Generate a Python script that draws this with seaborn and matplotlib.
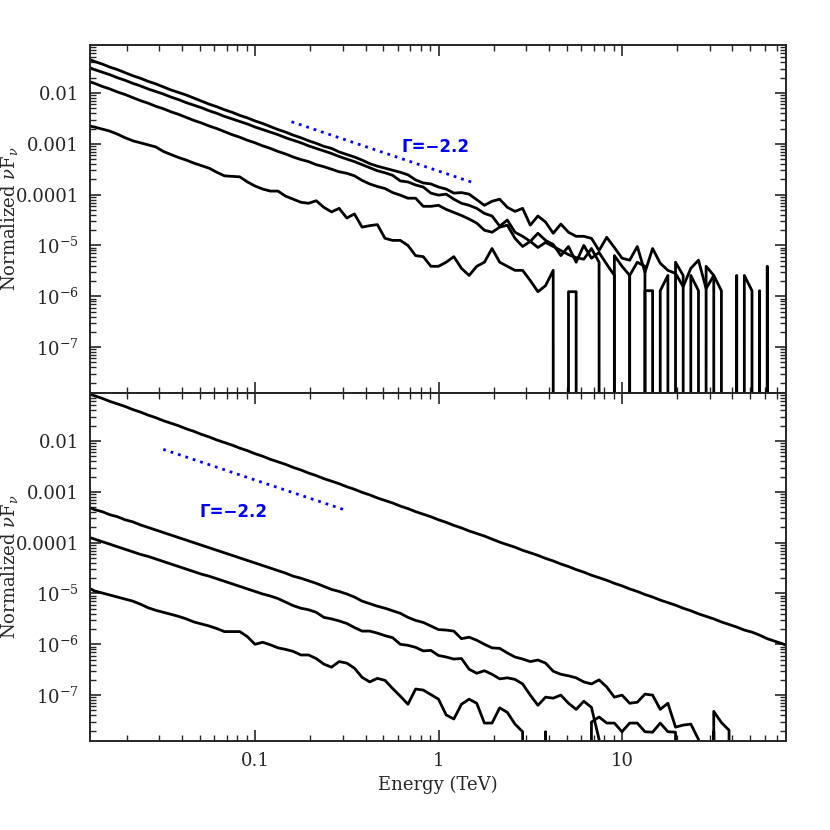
import matplotlib
matplotlib.use("Agg")
import matplotlib.pyplot as plt
import numpy as np
import pandas as pd
import seaborn as sns
from matplotlib.ticker import LogLocator, NullFormatter

# bin centres (TeV), 24 bins per decade
energy = [
    0.012115, 0.013335, 0.014678, 0.016156, 0.017783, 0.019573, 0.021544, 0.023714,
    0.026102, 0.028730, 0.031623, 0.034807, 0.038312, 0.042170, 0.046416, 0.051090,
    0.056234, 0.061897, 0.068129, 0.074989, 0.082540, 0.090852,
    0.10000, 0.11007, 0.12115, 0.13335, 0.14678, 0.16156, 0.17783, 0.19573,
    0.21544, 0.23714, 0.26102, 0.28730, 0.31623, 0.34807, 0.38312, 0.42170,
    0.46416, 0.51090, 0.56234, 0.61897, 0.68129, 0.74989, 0.82540, 0.90852,
    1.0000, 1.1007, 1.2115, 1.3335, 1.4678, 1.6156, 1.7783, 1.9573,
    2.1544, 2.3714, 2.6102, 2.8730, 3.1623, 3.4807, 3.8312, 4.2170,
    4.6416, 5.1090, 5.6234, 6.1897, 6.8129, 7.4989, 8.2540, 9.0852,
    10.000, 11.007, 12.115, 13.335, 14.678, 16.156, 17.783, 19.573,
    21.544, 23.714, 26.102, 28.730, 31.623, 34.807, 38.312, 42.170,
    46.416, 51.090, 56.234, 61.897, 68.129, 74.989, 82.540,
]

# log10(nuFnu) per bin, None = empty bin
top_a = [
    -1.32, -1.38, -1.43, -1.49, -1.54, -1.60, -1.66, -1.71, -1.77, -1.82,
    -1.88, -1.94, -1.99, -2.04, -2.10, -2.16, -2.22, -2.27, -2.33, -2.38,
    -2.44, -2.49, -2.55, -2.60, -2.66, -2.72, -2.77, -2.83, -2.88, -2.94,
    -2.99, -3.05, -3.09, -3.16, -3.21, -3.26, -3.32, -3.39, -3.44, -3.48,
    -3.52, -3.56, -3.61, -3.71, -3.77, -3.79, -3.85, -3.89, -3.97, -3.96,
    -3.99, -4.10, -4.21, -4.13, -4.09, -4.25, -4.33, -4.27, -4.60, -4.42,
    -4.54, -4.76, -4.58, -4.74, -4.82, -4.82, -4.86, -5.10, -4.84, -5.04,
    -5.25, -5.29, -5.02, -5.53, -5.06, -5.35, -5.49, -5.55, -5.81, -5.45,
    -5.29, -5.85, -5.59, -5.89, None, None, -5.59, -5.89, None, -5.41,
    None, None, None,
]
top_b = [
    -1.48, -1.54, -1.59, -1.64, -1.70, -1.75, -1.81, -1.86, -1.92, -1.97,
    -2.02, -2.08, -2.13, -2.19, -2.24, -2.29, -2.35, -2.40, -2.46, -2.51,
    -2.56, -2.61, -2.67, -2.72, -2.77, -2.82, -2.88, -2.93, -2.98, -3.04,
    -3.09, -3.14, -3.19, -3.25, -3.30, -3.35, -3.41, -3.47, -3.53, -3.57,
    -3.62, -3.73, -3.75, -3.81, -3.85, -3.97, -4.01, -3.99, -4.09, -4.17,
    -4.21, -4.27, -4.37, -4.42, -4.62, -4.50, -4.74, -4.82, -4.92, -4.76,
    -4.90, -4.98, -5.20, -5.02, -5.33, -5.00, -5.25, -5.14, -5.37, -5.59,
    None, -5.59, -5.33, -5.41, None, -5.89, -5.59, None, None, -5.59,
    -5.89, None, None, None, None, -5.59, None, None, -5.89, None,
    None, None, None,
]
top_c = [
    -1.76, -1.81, -1.87, -1.92, -1.98, -2.03, -2.09, -2.15, -2.20, -2.26,
    -2.31, -2.37, -2.42, -2.48, -2.54, -2.59, -2.65, -2.70, -2.76, -2.82,
    -2.87, -2.93, -2.98, -3.04, -3.09, -3.15, -3.20, -3.26, -3.31, -3.35,
    -3.41, -3.45, -3.50, -3.55, -3.58, -3.63, -3.72, -3.79, -3.84, -3.88,
    -3.96, -4.01, -4.07, -4.07, -4.23, -4.23, -4.21, -4.29, -4.35, -4.41,
    -4.48, -4.56, -4.70, -4.74, -4.64, -4.60, -4.86, -5.02, -4.92, -5.04,
    -4.94, -5.02, -5.10, -5.18, -5.24, -5.27, -5.06, -5.33, None, -5.20,
    -5.41, -5.59, None, -5.89, -5.89, None, None, -5.33, -5.59, None,
    None, -5.41, -5.59, None, None, None, None, None, None, None,
    None, None, None,
]
top_d = [
    -2.64, -2.67, -2.71, -2.75, -2.81, -2.88, -2.94, -2.98, -3.02, -3.06,
    -3.15, -3.21, -3.27, -3.32, -3.38, -3.43, -3.48, -3.56, -3.63, -3.64,
    -3.65, -3.75, -3.83, -3.89, -3.93, -3.93, -4.03, -4.09, -4.15, -4.17,
    -4.12, -4.25, -4.34, -4.27, -4.46, -4.38, -4.64, -4.61, -4.59, -4.86,
    -4.90, -4.90, -5.00, -5.20, -5.22, -5.41, -5.41, -5.33, -5.22, -5.45,
    -5.59, -5.41, -5.33, -5.06, -5.33, -5.41, -5.49, -5.49, -5.69, -5.91,
    -5.79, -5.49, None, -5.91, -5.91, None, None, None, None, None,
    None, None, None, None, None, None, None, None, None, None,
    None, None, None, None, None, None, None, None, None, None,
    None, None, None,
]

bot_e = [
    -1.05, -1.11, -1.16, -1.22, -1.27, -1.32, -1.38, -1.43, -1.49, -1.54,
    -1.60, -1.65, -1.70, -1.76, -1.81, -1.87, -1.92, -1.98, -2.03, -2.08,
    -2.14, -2.19, -2.25, -2.30, -2.36, -2.41, -2.46, -2.52, -2.57, -2.63,
    -2.68, -2.74, -2.79, -2.84, -2.90, -2.95, -3.01, -3.06, -3.12, -3.17,
    -3.22, -3.28, -3.33, -3.39, -3.44, -3.49, -3.55, -3.60, -3.66, -3.71,
    -3.77, -3.82, -3.87, -3.93, -3.99, -4.04, -4.09, -4.15, -4.20, -4.25,
    -4.31, -4.36, -4.42, -4.47, -4.53, -4.58, -4.64, -4.69, -4.74, -4.80,
    -4.85, -4.91, -4.96, -5.02, -5.07, -5.13, -5.18, -5.23, -5.29, -5.34,
    -5.40, -5.45, -5.50, -5.56, -5.61, -5.66, -5.72, -5.76, -5.82, -5.89,
    -5.94, -5.99, -6.05,
]
bot_f = [
    -3.29, -3.35, -3.39, -3.45, -3.49, -3.55, -3.59, -3.65, -3.70, -3.75,
    -3.80, -3.85, -3.90, -3.95, -4.00, -4.05, -4.10, -4.15, -4.20, -4.25,
    -4.30, -4.35, -4.40, -4.45, -4.50, -4.55, -4.60, -4.66, -4.70, -4.75,
    -4.80, -4.86, -4.92, -4.96, -5.01, -5.07, -5.15, -5.20, -5.25, -5.29,
    -5.34, -5.39, -5.47, -5.53, -5.57, -5.64, -5.71, -5.72, -5.74, -5.89,
    -5.86, -5.92, -6.00, -6.07, -6.08, -6.17, -6.25, -6.29, -6.34, -6.31,
    -6.37, -6.53, -6.59, -6.62, -6.66, -6.74, -6.78, -6.70, -6.84, -7.04,
    -7.00, -7.16, -7.14, -6.98, -7.00, -7.28, -7.16, -7.63, -7.59, -7.57,
    -7.87, None, -7.32, -7.54, -7.69, None, None, None, None, None,
    None, None, None,
]
bot_g = [
    -3.88, -3.93, -3.98, -4.03, -4.08, -4.13, -4.18, -4.23, -4.27, -4.32,
    -4.37, -4.42, -4.47, -4.52, -4.57, -4.62, -4.66, -4.71, -4.76, -4.81,
    -4.86, -4.91, -4.96, -5.01, -5.05, -5.10, -5.17, -5.24, -5.29, -5.32,
    -5.37, -5.47, -5.50, -5.54, -5.59, -5.67, -5.74, -5.74, -5.78, -5.83,
    -5.87, -6.00, -6.02, -6.06, -6.13, -6.12, -6.22, -6.25, -6.29, -6.28,
    -6.49, -6.57, -6.52, -6.59, -6.68, -6.66, -6.69, -6.78, -7.00, -7.20,
    -7.04, -7.06, -7.00, -7.16, -7.28, -7.12, -7.24, -7.87, None, None,
    None, None, None, None, None, None, None, None, None, None,
    None, None, None, None, None, None, None, None, None, None,
    None, None, None,
]
bot_h = [
    -4.87, -4.95, -4.99, -5.03, -5.07, -5.11, -5.15, -5.21, -5.28, -5.33,
    -5.37, -5.41, -5.45, -5.50, -5.56, -5.60, -5.64, -5.69, -5.75, -5.75,
    -5.75, -5.85, -6.00, -5.96, -6.01, -6.07, -6.10, -6.14, -6.21, -6.21,
    -6.28, -6.39, -6.45, -6.34, -6.37, -6.47, -6.65, -6.74, -6.67, -6.71,
    -6.87, -7.02, -7.18, -6.88, -6.90, -6.99, -7.08, -7.39, -7.47, -7.18,
    -7.08, -7.16, -7.55, -7.55, -7.25, -7.34, -7.57, -7.72, None, None,
    -7.72, None, None, None, None, None, -7.53, -7.43, -7.55, -7.55,
    -7.72, -7.55, -7.55, -7.72, -7.73, -7.55, -7.72, -7.73, None, None,
    None, None, -7.71, None, None, None, None, None, None, None,
    None, None, None,
]

# Gamma = -2.2 guide lines (end points)
guide_top_x = [0.158, 1.53]
guide_top_y = [2.72e-3, 1.74e-4]
guide_bot_x = [0.0316, 0.302]
guide_bot_y = [6.85e-3, 4.52e-4]

y_ticks = [1e-7, 1e-6, 1e-5, 1e-4, 1e-3, 1e-2]
y_tick_labels = [r"$10^{-7}$", r"$10^{-6}$", r"$10^{-5}$", "0.0001", "0.001", "0.01"]
x_ticks = [0.1, 1, 10]
x_tick_labels = ["0.1", "1", "10"]


def to_flux(logs):
    # empty bins become zero, which the log axis sends off the bottom
    return [0.0 if v is None else 10.0 ** v for v in logs]


def spectra_frame(curves):
    frames = []
    for name, logs in curves.items():
        frames.append(pd.DataFrame({"energy": energy, "flux": to_flux(logs), "curve": name}))
    return pd.concat(frames, ignore_index=True)


def style_panel(ax):
    ax.set_xscale("log")
    ax.set_yscale("log")
    ax.set_xlim(0.0126, 78.3)
    ax.set_ylim(1.25e-8, 0.088)
    ax.set_yticks(y_ticks, labels=y_tick_labels)
    ax.yaxis.set_minor_locator(LogLocator(base=10, subs=np.arange(2, 10), numticks=20))
    ax.yaxis.set_minor_formatter(NullFormatter())
    ax.xaxis.set_minor_locator(LogLocator(base=10, subs=np.arange(2, 10), numticks=20))
    ax.xaxis.set_minor_formatter(NullFormatter())
    ax.tick_params(which="major", direction="in", length=8, width=1.2,
                   top=True, right=True, labelsize=13, pad=8)
    ax.tick_params(which="minor", direction="in", length=4.5, width=1.0,
                   top=True, right=True)
    for sp in ax.spines.values():
        sp.set_linewidth(1.4)
    ax.set_ylabel(r"Normalized $\nu\mathrm{F}_\nu$", fontsize=13)
    ax.yaxis.set_label_coords(-0.10, 0.5)


sns.set_style("ticks")
plt.rcParams["font.family"] = ["DejaVu Serif"]
plt.rcParams["mathtext.fontset"] = "dejavuserif"

fig = plt.figure(figsize=(8.3, 8.3), dpi=100)
ax_top = fig.add_axes([0.1084, 0.5265, 0.8386, 0.4193])
ax_bot = fig.add_axes([0.1084, 0.1072, 0.8386, 0.4193])

top_df = spectra_frame({"a": top_a, "b": top_b, "c": top_c, "d": top_d})
bot_df = spectra_frame({"e": bot_e, "f": bot_f, "g": bot_g, "h": bot_h})

for ax, df in ((ax_top, top_df), (ax_bot, bot_df)):
    sns.lineplot(data=df, x="energy", y="flux", units="curve", estimator=None,
                 sort=False, color="black", linewidth=2.0, ax=ax, legend=False)
    style_panel(ax)

ax_top.plot(guide_top_x, guide_top_y, color="blue", linewidth=2.0,
            linestyle=(0, (1, 1.8)))
ax_top.text(0.629, 8.75e-4, "Γ=−2.2", color="blue", fontsize=12,
            fontweight="bold", family="DejaVu Sans", ha="left", va="center")
ax_bot.plot(guide_bot_x, guide_bot_y, color="blue", linewidth=2.0,
            linestyle=(0, (1, 1.8)))
ax_bot.text(0.0501, 4.05e-4, "Γ=−2.2", color="blue", fontsize=12,
            fontweight="bold", family="DejaVu Sans", ha="left", va="center")

ax_top.set_xticks(x_ticks, labels=[])
ax_top.set_xlabel("")
ax_bot.set_xticks(x_ticks, labels=x_tick_labels)
ax_bot.set_xlabel("Energy (TeV)", fontsize=13)

fig.savefig("out.png", dpi=100)
plt.close(fig)
